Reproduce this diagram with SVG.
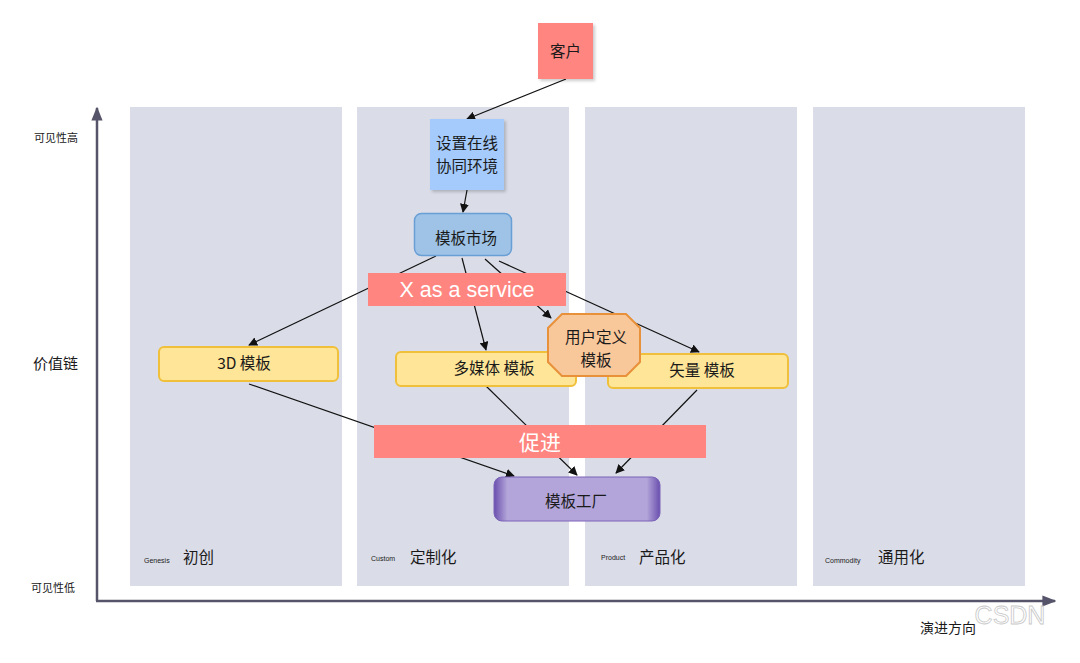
<svg xmlns="http://www.w3.org/2000/svg" width="1080" height="663" viewBox="0 0 1080 663">
<defs>
<style>
.cjk{font-family:"Noto Sans CJK SC","Liberation Sans",sans-serif;fill:#1a1a1a}
.lat{font-family:"Liberation Sans","Noto Sans CJK SC",sans-serif;fill:#1a1a1a}
.col{fill:#dadde8}
.edge{stroke:#111;stroke-width:1.2;fill:none}
.axis{stroke:#55546a;stroke-width:2.5;fill:none}
.yellow{fill:#fee597;stroke:#f0c03a;stroke-width:2}
.banner{fill:#ff8680}
.n{font-size:15.5px;text-anchor:middle}
</style>
<marker id="ah" viewBox="0 0 10 10" refX="9" refY="5" markerWidth="9" markerHeight="9" markerUnits="userSpaceOnUse" orient="auto">
<path d="M0,0 L10,5 L0,10 z" fill="#111"/>
</marker>
<marker id="axh" viewBox="0 0 10 10" refX="9" refY="5" markerWidth="14" markerHeight="14" markerUnits="userSpaceOnUse" orient="auto">
<path d="M0,1 L10,5 L0,9 z" fill="#55546a"/>
</marker>
<linearGradient id="fac" x1="0" y1="0" x2="1" y2="0">
<stop offset="0" stop-color="#6a4fae"/>
<stop offset="0.08" stop-color="#b3a5d9"/>
<stop offset="0.92" stop-color="#b3a5d9"/>
<stop offset="1" stop-color="#6a4fae"/>
</linearGradient>
<filter id="sh" x="-20%" y="-20%" width="150%" height="150%">
<feDropShadow dx="2" dy="2" stdDeviation="1.5" flood-color="#000" flood-opacity="0.2"/>
</filter>
</defs>
<rect width="1080" height="663" fill="#fff"/>

<g id="columns">
<rect class="col" x="130" y="107" width="212" height="479"/>
<rect class="col" x="357" y="107" width="212" height="479"/>
<rect class="col" x="585" y="107" width="212" height="479"/>
<rect class="col" x="813" y="107" width="212" height="479"/>
<text class="lat" x="144" y="563" font-size="7">Genesis</text>
<text class="cjk" x="183" y="563" font-size="15.5">初创</text>
<text class="lat" x="371" y="561" font-size="7">Custom</text>
<text class="cjk" x="410" y="563" font-size="15.5">定制化</text>
<text class="lat" x="601" y="560" font-size="7">Product</text>
<text class="cjk" x="639" y="563" font-size="15.5">产品化</text>
<text class="lat" x="825" y="563" font-size="7">Commodity</text>
<text class="cjk" x="878" y="563" font-size="15.5">通用化</text>
</g>

<g id="axes">
<path class="axis" d="M97,601 V108" marker-end="url(#axh)"/>
<path class="axis" d="M96,601 H1055" marker-end="url(#axh)"/>
<text class="cjk" x="78" y="142" font-size="11" text-anchor="end">可见性高</text>
<text class="cjk" x="78" y="369" font-size="15" text-anchor="end">价值链</text>
<text class="cjk" x="75" y="592" font-size="11" text-anchor="end">可见性低</text>
<text class="cjk" x="948" y="633" font-size="14" text-anchor="middle">演进方向</text>
<text x="1010" y="624" font-size="25" text-anchor="middle" font-family="Liberation Sans,sans-serif" fill="none" stroke="#c8c8c8" stroke-width="0.8">CSDN</text>
</g>

<g id="connectors">
<path class="edge" d="M566,79 L467,119" marker-end="url(#ah)"/>
<path class="edge" d="M467,190 L463,212" marker-end="url(#ah)"/>
<path class="edge" d="M436,256 L249,345" marker-end="url(#ah)"/>
<path class="edge" d="M462,258 L486,350" marker-end="url(#ah)"/>
<path class="edge" d="M485,259 L551,318" marker-end="url(#ah)"/>
<path class="edge" d="M499,261 L699,352" marker-end="url(#ah)"/>
<path class="edge" d="M249,384 L514,476" marker-end="url(#ah)"/>
<path class="edge" d="M486,386 L577,475" marker-end="url(#ah)"/>
<path class="edge" d="M697,390 L616,473" marker-end="url(#ah)"/>
</g>

<g id="customer">
<rect x="538" y="23" width="55" height="56" fill="#ff8680" filter="url(#sh)"/>
<text class="cjk n" x="565.5" y="57">客户</text>
</g>

<g id="setup">
<rect x="430" y="119" width="74" height="71" fill="#a4cbfc" filter="url(#sh)"/>
<text class="cjk n" x="467" y="149">设置在线</text>
<text class="cjk n" x="467" y="172">协同环境</text>
</g>

<g id="market">
<rect x="414.5" y="213.5" width="97" height="42" rx="7" fill="#9ec3e6" stroke="#6a9fd6" stroke-width="1.5"/>
<text class="cjk n" x="466" y="244">模板市场</text>
</g>

<g id="xaas">
<rect class="banner" x="368" y="273" width="198" height="33"/>
<text x="467" y="297" font-size="21.5" text-anchor="middle" font-family="Liberation Sans,sans-serif" fill="#fff">X as a service</text>
</g>

<g id="t3d">
<rect class="yellow" x="159" y="347" width="179" height="34" rx="5"/>
<text class="cjk n" x="244" y="369">3D 模板</text>
</g>

<g id="multimedia">
<rect class="yellow" x="396" y="352" width="180" height="34" rx="5"/>
<text class="cjk n" x="494" y="374">多媒体 模板</text>
</g>

<g id="vector">
<rect class="yellow" x="608" y="354" width="180" height="34" rx="5"/>
<text class="cjk n" x="702" y="376">矢量 模板</text>
</g>

<g id="userdef">
<polygon points="562,314 626,314 640,328 640,362 626,376 562,376 548,362 548,328" fill="#f8c79a" stroke="#e8913a" stroke-width="2"/>
<text class="cjk n" x="596" y="343">用户定义</text>
<text class="cjk n" x="596" y="366">模板</text>
</g>

<g id="promote">
<rect class="banner" x="374" y="425" width="332" height="33"/>
<text x="540" y="450" font-size="21" text-anchor="middle" font-family="Noto Sans CJK SC,sans-serif" fill="#fff">促进</text>
</g>

<g id="factory">
<rect x="494" y="477" width="166" height="44" rx="8" fill="url(#fac)" stroke="#7a62b8" stroke-width="1"/>
<text class="cjk n" x="576" y="507">模板工厂</text>
</g>
</svg>
